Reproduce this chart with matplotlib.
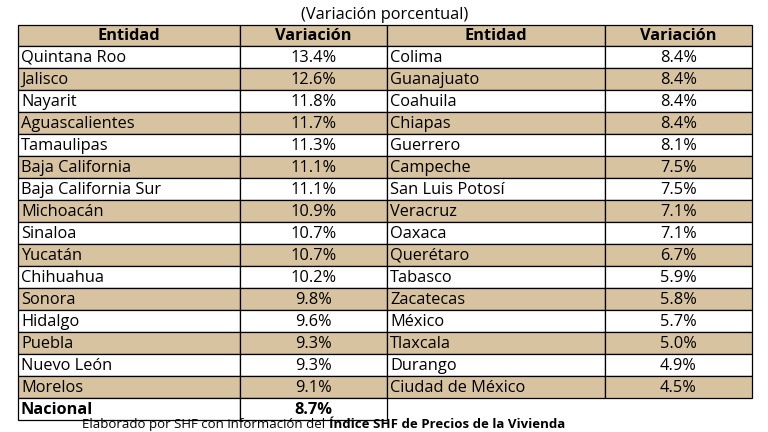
import matplotlib
matplotlib.use("Agg")
import matplotlib.pyplot as plt
from matplotlib.patches import Rectangle

left_names = ["Quintana Roo","Jalisco","Nayarit","Aguascalientes","Tamaulipas","Baja California",
              "Baja California Sur","Michoacán","Sinaloa","Yucatán","Chihuahua","Sonora","Hidalgo",
              "Puebla","Nuevo León","Morelos"]
left_vals = [13.4,12.6,11.8,11.7,11.3,11.1,11.1,10.9,10.7,10.7,10.2,9.8,9.6,9.3,9.3,9.1]
right_names = ["Colima","Guanajuato","Coahuila","Chiapas","Guerrero","Campeche","San Luis Potosí",
               "Veracruz","Oaxaca","Querétaro","Tabasco","Zacatecas","México","Tlaxcala","Durango",
               "Ciudad de México"]
right_vals = [8.4,8.4,8.4,8.4,8.1,7.5,7.5,7.1,7.1,6.7,5.9,5.8,5.7,5.0,4.9,4.5]
nacional = 8.7
headers = ["Entidad","Variación","Entidad","Variación"]

W, H = 768, 432
plt.rcParams['font.family'] = ['Open Sans', 'DejaVu Sans']
fig = plt.figure(figsize=(7.68, 4.32), dpi=100)
ax = fig.add_axes([0, 0, 1, 1])
ax.set_xlim(0, W); ax.set_ylim(H, 0); ax.axis("off")

beige = "#d8c3a0"
cols = [18, 240, 387, 605, 752]
top, hdr_h, rh = 25, 21, 22.0
fs = 11.8

ax.text(385, 15, "(Variación porcentual)", ha="center", va="center", fontsize=fs)

def cell(x0, x1, y0, h, text, fill, align, bold=False):
    ax.add_patch(Rectangle((x0, y0), x1 - x0, h, facecolor=fill, edgecolor="black", lw=0.9))
    if align == "left":
        ax.text(x0 + 3, y0 + h / 2 + 0.5, text, ha="left", va="center", fontsize=fs,
                fontweight="bold" if bold else "normal")
    else:
        ax.text((x0 + x1) / 2, y0 + h / 2 + 0.5, text, ha="center", va="center", fontsize=fs,
                fontweight="bold" if bold else "normal")

for i, h in enumerate(headers):
    cell(cols[i], cols[i + 1], top, hdr_h, h, beige, "center", bold=True)

y = top + hdr_h
for i in range(len(left_names)):
    fill = beige if i % 2 == 1 else "white"
    yy = y + i * rh
    cell(cols[0], cols[1], yy, rh, left_names[i], fill, "left")
    cell(cols[1], cols[2], yy, rh, f"{left_vals[i]:.1f}%", fill, "center")
    cell(cols[2], cols[3], yy, rh, right_names[i], fill, "left")
    cell(cols[3], cols[4], yy, rh, f"{right_vals[i]:.1f}%", fill, "center")

yy = y + len(left_names) * rh
cell(cols[0], cols[1], yy, rh, "Nacional", "white", "left", bold=True)
cell(cols[1], cols[2], yy, rh, f"{nacional:.1f}%", "white", "center", bold=True)

t1 = ax.text(82, 431, "Elaborado por SHF con información del ", ha="left", va="bottom", fontsize=9.5)
fig.canvas.draw()
bb = t1.get_window_extent()
x_end = ax.transData.inverted().transform((bb.x1, bb.y0))[0]
ax.text(x_end, 431, "Índice SHF de Precios de la Vivienda", ha="left", va="bottom",
        fontsize=9.5, fontweight="bold")

fig.savefig("out.png", dpi=100)
